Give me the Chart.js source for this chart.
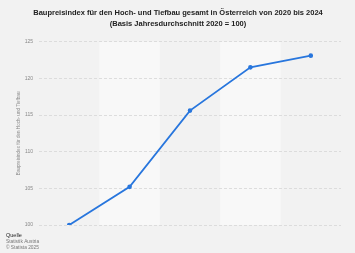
<!DOCTYPE html>
<html><head><meta charset="utf-8">
<script src="https://cdn.jsdelivr.net/npm/chart.js@4"></script>
<style>html,body{margin:0;padding:0;background:#f2f2f2;}#c{display:block;}</style>
</head><body>
<canvas id="c" width="355" height="253"></canvas>
<script>
const categories = ["2020", "2021", "2022", "2023", "2024"];
const values = [100.0, 105.2, 115.6, 121.5, 123.1];
const yTicks = [100, 105, 110, 115, 120, 125];
const titleLines = ["Baupreisindex für den Hoch- und Tiefbau gesamt in Österreich von 2020 bis 2024", "(Basis Jahresdurchschnitt 2020 = 100)"];
const yAxisTitle = "Baupreisindex für den Hoch- und Tiefbau";
const sourceLines = ["Quelle", "Statistik Austria", "© Statista 2025"];

const FONT = "'Liberation Sans', Arial, sans-serif";

const bgPlugin = {
  id: 'bg',
  beforeDraw(chart) {
    const {ctx, chartArea, scales} = chart;
    ctx.save();
    ctx.fillStyle = '#f2f2f2';
    ctx.fillRect(0, 0, chart.width, chart.height);
    const x = scales.x;
    const step = x.getPixelForValue(1) - x.getPixelForValue(0);
    ctx.fillStyle = '#f8f8f8';
    categories.forEach((c, i) => {
      if (i % 2 === 1) {
        const cx = x.getPixelForValue(i);
        ctx.fillRect(cx - step / 2, chartArea.top, step, chartArea.bottom - chartArea.top);
      }
    });
    ctx.restore();
  },
  afterDraw(chart) {
    const {ctx} = chart;
    ctx.save();
    ctx.fillStyle = '#222';
    ctx.textAlign = 'center';
    ctx.textBaseline = 'middle';
    ctx.font = "bold 7.5px " + FONT;
    ctx.fillText(titleLines[0], 178, 12.5);
    ctx.fillText(titleLines[1], 178, 24);
    ctx.textAlign = 'left';
    ctx.font = "5.5px " + FONT;
    ctx.fillStyle = '#222';
    ctx.fillText(sourceLines[0], 6, 235.5);
    ctx.fillStyle = '#777';
    ctx.font = "4.8px " + FONT;
    ctx.fillText(sourceLines[1], 6, 242);
    ctx.fillText(sourceLines[2], 6, 248);
    ctx.restore();
  }
};

new Chart(document.getElementById('c'), {
  type: 'line',
  data: {
    labels: categories,
    datasets: [{
      data: values,
      borderColor: '#2876dd',
      backgroundColor: '#2876dd',
      borderWidth: 1.8,
      pointRadius: 1.4,
      pointHoverRadius: 1.4,
      tension: 0,
      fill: false
    }]
  },
  options: {
    responsive: false,
    animation: false,
    devicePixelRatio: 1,
    layout: {padding: {top: 41.7, right: 14, bottom: 28, left: 0}},
    plugins: {legend: {display: false}, tooltip: {enabled: false}, title: {display: false}},
    scales: {
      x: {
        type: 'category',
        offset: true,
        grid: {display: false},
        border: {display: false},
        ticks: {display: false},
        afterFit(s) { s.height = 0; }
      },
      y: {
        min: 100, max: 125,
        afterBuildTicks(s) { s.ticks = yTicks.map(v => ({value: v})); },
        afterFit(s) { s.width = 39; },
        border: {display: false, dash: [3, 2]},
        grid: {color: '#d6d6d6', lineWidth: 0.8, drawTicks: false},
        ticks: {
          color: '#888', padding: 6,
          font: {family: FONT, size: 5}
        },
        title: {
          display: true, text: yAxisTitle, color: '#888',
          font: {family: FONT, size: 4.6},
          padding: {top: 16, bottom: 0}
        }
      }
    }
  },
  plugins: [bgPlugin]
});
</script>
</body></html>
